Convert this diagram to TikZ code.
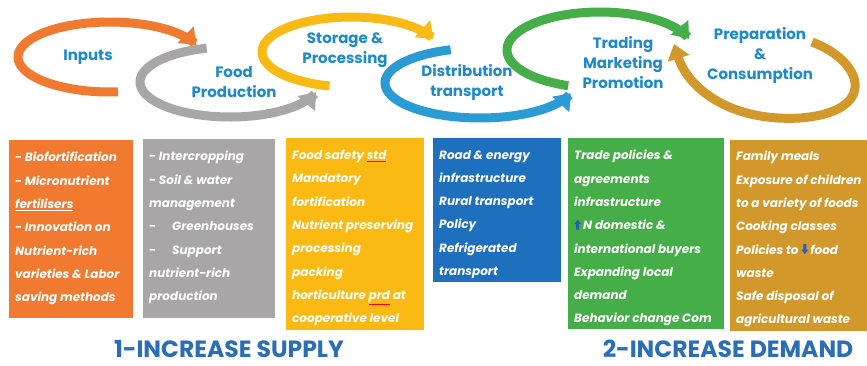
\documentclass[tikz,border=0pt]{standalone}
\usepackage{fontspec}
\setmainfont{Poppins}
\usetikzlibrary{arrows.meta}
\definecolor{corange}{HTML}{F27A30}
\definecolor{cgray}{HTML}{A8A6A6}
\definecolor{cyellow}{HTML}{FBBA13}
\definecolor{cblue}{HTML}{2B9BD6}
\definecolor{cbluebox}{HTML}{1F6FBF}
\definecolor{cgreen}{HTML}{45AE48}
\definecolor{cgold}{HTML}{D3982B}
\definecolor{clabel}{HTML}{1C8ACB}
\definecolor{ctitle}{HTML}{2A6DB8}
\definecolor{carrow}{HTML}{2060B8}
\newcommand\upar{\tikz[baseline=0pt]\fill[carrow](2pt,0)--(2pt,5.5pt)--(0,5.5pt)--(3.5pt,10pt)--(7pt,5.5pt)--(5pt,5.5pt)--(5pt,0)--cycle;}
\newcommand\downar{\tikz[baseline=0pt]\fill[carrow](2pt,10pt)--(2pt,4.5pt)--(0,4.5pt)--(3.5pt,0pt)--(7pt,4.5pt)--(5pt,4.5pt)--(5pt,10pt)--cycle;}
\newcommand\spell[1]{{\color{red}\underline{\color{white}#1}}}
\newcommand\wul[1]{\underline{#1}}
\begin{document}
\begin{tikzpicture}[x=1pt,y=-1pt,
  loop/.style={line width=9pt,-{Triangle[width=22pt,length=15pt]}},
  lbl/.style={text=clabel,font=\fontsize{15}{20}\selectfont\bfseries,align=center,inner sep=0pt},
  btext/.style={text=white,font=\fontsize{12}{23.3}\selectfont\bfseries\itshape,align=left,anchor=north west,inner sep=0pt},
  title/.style={text=ctitle,font=\fontsize{23.5}{28}\selectfont\bfseries,anchor=base,inner sep=0pt}]
\useasboundingbox (0,0) rectangle (867,365);
\fill[white] (0,0) rectangle (867,365);
% loops
\draw[loop,corange] plot[domain=85:340,samples=80] ({110+92*cos(\x)},{57+35*sin(\x)});
\draw[loop,cgray] plot[domain=255:17,samples=80] ({230+90*cos(\x)},{82+35*sin(\x)});
\draw[loop,cyellow] plot[domain=104:338,samples=80] ({351+89*cos(\x)},{52+35*sin(\x)});
\draw[loop,cblue] plot[domain=252:17,samples=80] ({480+95*cos(\x)},{83+35*sin(\x)});
\draw[loop,cgreen] plot[domain=110:343,samples=80] ({600+93*cos(\x)},{50+38*sin(\x)});
\draw[loop,cgold] (812,42) .. controls (865,62) and (878,112) .. (800,118) .. controls (730,122) and (688,88) .. (674,44);
% labels
\node[lbl] (inputs) at (88,57) {Inputs};
\node[lbl] (foodprod) at (234,82) {Food\\Production};
\node[lbl] (storage) at (345,50) {Storage \&\\Processing};
\node[lbl] (distrib) at (467,82) {Distribution\\transport};
\node[lbl] (trading) at (623,63) {Trading\\Marketing\\Promotion};
\node[lbl] (prep) at (760,55) {Preparation\\\&\\Consumption};
% boxes
\fill[corange] (9,140) rectangle (133,318);
\fill[cgray] (143,139) rectangle (275,318);
\fill[cyellow] (286,138) rectangle (424,330);
\fill[cbluebox] (433,138) rectangle (561,282);
\fill[cgreen] (568,138) rectangle (724,329);
\fill[cgold] (730,140) rectangle (867,331);
\node[btext] (t1) at (15,152) {- Biofortification\\- Micronutrient\\\wul{fertilisers}\\- Innovation on\\Nutrient-rich\\varieties \& Labor\\saving methods};
\node[btext] (t2) at (149,151) {- Intercropping\\- Soil \& water\\management\\-\hspace{16pt}Greenhouses\\-\hspace{16pt}Support\\nutrient-rich\\production};
\node[btext] (t3) at (292,150) {Food safety \spell{std}\\Mandatory\\fortification\\Nutrient preserving\\processing\\packing\\horticulture \spell{prd} at\\cooperative level};
\node[btext] (t4) at (439,150) {Road \& energy\\infrastructure\\Rural transport\\Policy\\Refrigerated\\transport};
\node[btext] (t5) at (574,150) {Trade policies \&\\agreements\\infrastructure\\\upar\,N domestic \&\\international buyers\\Expanding local\\demand\\Behavior change Com};
\node[btext] (t6) at (736,151) {Family meals\\Exposure of children\\to a variety of foods\\Cooking classes\\Policies to \downar\,food\\waste\\Safe disposal of\\agricultural waste};
% titles
\node[title] (supply) at (229,357.5) {1-INCREASE SUPPLY};
\node[title] (demand) at (728,357.5) {2-INCREASE DEMAND};
\end{tikzpicture}
\end{document}
